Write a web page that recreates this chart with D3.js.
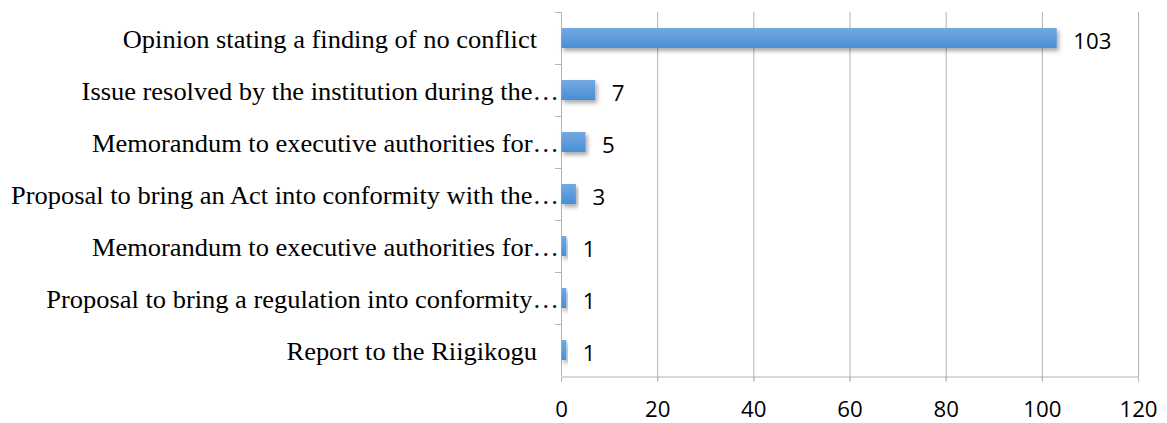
<!DOCTYPE html>
<html>
<head>
<meta charset="utf-8">
<script src="https://cdn.jsdelivr.net/npm/d3@7"></script>
<style>
  body { margin: 0; background: #fff; }
</style>
</head>
<body>
<svg id="chart"></svg>
<script>
// size of the picture
var width = 1167;
var height = 423;

// chart data
var categories = [
    "Opinion stating a finding of no conflict",
    "Issue resolved by the institution during the\u2026",
    "Memorandum to executive authorities for\u2026",
    "Proposal to bring an Act into conformity with the\u2026",
    "Memorandum to executive authorities for\u2026 ",
    "Proposal to bring a regulation into conformity\u2026",
    "Report to the Riigikogu"
];
var values = [103, 7, 5, 3, 1, 1, 1];
var xTicks = [0, 20, 40, 60, 80, 100, 120];

var margin = { top: 12, right: 29, bottom: 47, left: 561 };
var labelRight = 537;    // right edge of full category text
var ellipsisRight = 559; // truncated labels let the ellipsis run past it
var serifScaleX = 1.08;  // the source text is a bit stretched sideways
var numScaleX = 1.06;

var svg = d3.select("#chart")
    .attr("width", width)
    .attr("height", height);

var defs = svg.append("defs");
var grad = defs.append("linearGradient")
    .attr("id", "barGrad")
    .attr("x1", 0).attr("y1", 0).attr("x2", 0).attr("y2", 1);
grad.append("stop").attr("offset", "0%").attr("stop-color", "#73aae1");
grad.append("stop").attr("offset", "100%").attr("stop-color", "#4a8dd4");

var shadow = defs.append("filter")
    .attr("id", "shadow")
    .attr("x", "-10%").attr("y", "-50%")
    .attr("width", "130%").attr("height", "250%");
shadow.append("feDropShadow")
    .attr("dx", 2).attr("dy", 3)
    .attr("stdDeviation", 2)
    .attr("flood-color", "#000")
    .attr("flood-opacity", 0.35);

var x = d3.scaleLinear()
    .domain([0, 120])
    .range([margin.left, width - margin.right]);

var y = d3.scaleBand()
    .domain(categories)
    .range([margin.top, height - margin.bottom])
    .paddingInner(0.615)
    .paddingOuter(0.3075);

var yOuter = d3.scaleBand()
    .domain(categories)
    .range([margin.top, height - margin.bottom]);

// grid lines
svg.append("g")
    .selectAll("line")
    .data(xTicks.slice(1))
    .join("line")
    .attr("x1", (d) => x(d) + 0.5)
    .attr("x2", (d) => x(d) + 0.5)
    .attr("y1", margin.top)
    .attr("y2", height - margin.bottom + 5)
    .attr("stroke", "#b3b3b3")
    .attr("stroke-width", 1);

// x axis
var xAxis = svg.append("g")
    .attr("transform", "translate(0," + (height - margin.bottom + 0.5) + ")")
    .call(d3.axisBottom(x).tickValues(xTicks).tickSize(5).tickPadding(21));
xAxis.select(".domain").attr("stroke", "#b3b3b3");
xAxis.selectAll(".tick line").attr("stroke", "#b3b3b3");
xAxis.selectAll(".tick text")
    .attr("fill", "#000")
    .attr("transform", "scale(" + numScaleX + ",1)")
    .style("font-family", "'Open Sans', sans-serif")
    .style("font-size", "21px");

// y axis line and ticks at band edges
var yg = svg.append("g");
yg.append("line")
    .attr("x1", margin.left + 0.5).attr("x2", margin.left + 0.5)
    .attr("y1", margin.top).attr("y2", height - margin.bottom)
    .attr("stroke", "#b3b3b3");
yg.selectAll("line.tk")
    .data(categories)
    .join("line")
    .attr("class", "tk")
    .attr("x1", margin.left - 6).attr("x2", margin.left)
    .attr("y1", (d) => Math.round(yOuter(d)) + 0.5)
    .attr("y2", (d) => Math.round(yOuter(d)) + 0.5)
    .attr("stroke", "#b3b3b3");

// category labels
svg.append("g")
    .style("font-family", "'Liberation Serif', 'Times New Roman', serif")
    .style("font-size", "24.5px")
    .selectAll("text")
    .data(categories)
    .join("text")
    .attr("transform", (d) => {
        var right = d.indexOf("\u2026") >= 0 ? ellipsisRight : labelRight;
        return "translate(" + right + "," + (yOuter(d) + yOuter.bandwidth() / 2) + ") scale(" + serifScaleX + ",1)";
    })
    .attr("dy", "0.41em")
    .attr("text-anchor", "end")
    .text((d) => d.trim());

// bars
svg.append("g")
    .selectAll("rect")
    .data(values)
    .join("rect")
    .attr("x", x(0) + 0.5)
    .attr("y", (d, i) => y(categories[i]))
    .attr("width", (d) => x(d) - x(0))
    .attr("height", y.bandwidth())
    .attr("fill", "url(#barGrad)")
    .attr("filter", "url(#shadow)");

// value labels
svg.append("g")
    .selectAll("text")
    .data(values)
    .join("text")
    .attr("transform", (d, i) =>
        "translate(" + (x(d) + 17) + "," + (y(categories[i]) + y.bandwidth() / 2) + ") scale(" + numScaleX + ",1)")
    .attr("dy", "0.5em")
    .style("font-family", "'Open Sans', sans-serif")
    .style("font-size", "21px")
    .text((d) => d);
</script>
</body>
</html>
